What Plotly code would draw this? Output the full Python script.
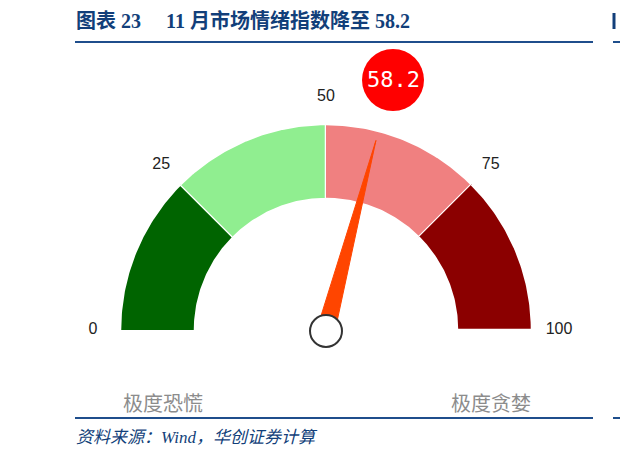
import numpy as np
import plotly.graph_objects as go

# gauge data
band_edges = [0, 25, 50, 75, 100]
band_colors = ['#006400', '#90EE90', '#F08080', '#8B0000']
tick_vals = [0, 25, 50, 75, 100]
tick_text = ['0', '25', '50', '75', '100']
value = 58.2
side_labels = ['极度恐慌', '极度贪婪']

title = '图表 23\u3000 11 月市场情绪指数降至 58.2'
source = '资料来源：Wind，华创证券计算'

# geometry (pixel units, gauge center at 0,0)
R_OUT, R_IN, R_LAB, R_NEEDLE = 206, 131, 233, 196
NAVY = '#1F4E8C'


def ang(v):
    return np.radians(180 - v * 1.8)


fig = go.Figure()

for i in range(len(band_colors)):
    t = np.linspace(ang(band_edges[i]), ang(band_edges[i + 1]), 60)
    xs = np.concatenate([R_OUT * np.cos(t), R_IN * np.cos(t[::-1])])
    ys = np.concatenate([R_OUT * np.sin(t), R_IN * np.sin(t[::-1])])
    fig.add_trace(go.Scatter(x=xs, y=ys, fill='toself', fillcolor=band_colors[i],
                             mode='lines', line=dict(color='white', width=2.5),
                             hoverinfo='skip', showlegend=False))

# tick labels
fig.add_trace(go.Scatter(x=[R_LAB * np.cos(ang(v)) for v in tick_vals],
                         y=[R_LAB * np.sin(ang(v)) for v in tick_vals],
                         mode='text', text=tick_text,
                         textfont=dict(family='Liberation Sans, Arial', size=16, color='#222222'),
                         hoverinfo='skip', showlegend=False))

# needle
a = ang(value)
perp = a + np.pi / 2
hw = 9
fig.add_trace(go.Scatter(x=[R_NEEDLE * np.cos(a), hw * np.cos(perp), -hw * np.cos(perp), R_NEEDLE * np.cos(a)],
                         y=[R_NEEDLE * np.sin(a), hw * np.sin(perp), -hw * np.sin(perp), R_NEEDLE * np.sin(a)],
                         fill='toself', fillcolor='#FF4500', mode='lines',
                         line=dict(color='#FF4500', width=1),
                         hoverinfo='skip', showlegend=False))

# hub
fig.add_shape(type='circle', x0=-16, y0=-17, x1=16, y1=15,
              fillcolor='white', line=dict(color='#333333', width=2))

# value bubble
fig.add_shape(type='circle', x0=36, y0=219, x1=98, y1=281,
              fillcolor='#FF0000', line=dict(color='#FF0000', width=0))
fig.add_annotation(x=67, y=251, text=f'{value:.1f}', showarrow=False,
                   font=dict(family='DejaVu Sans Mono, monospace', size=22, color='white'))

# side labels
for lx, txt in zip([-163, 165], side_labels):
    fig.add_annotation(x=lx, y=-72, text=txt, showarrow=False,
                       font=dict(family='Noto Sans CJK SC', size=20, color='#8C8C8C'))

# title and source
fig.add_annotation(xref='paper', yref='paper', x=74 / 620, y=1 - 21 / 457,
                   xanchor='left', yanchor='middle',
                   text='<b>' + title + '</b>', showarrow=False,
                   font=dict(family='Liberation Serif, Noto Sans CJK SC', size=20, color='#123F7A'))
fig.add_annotation(xref='paper', yref='paper', x=74 / 620, y=1 - 437 / 457,
                   xanchor='left', yanchor='middle',
                   text='<i>' + source + '</i>', showarrow=False,
                   font=dict(family='Liberation Serif, Noto Sans CJK SC', size=17, color='#123F7A'))

# rules
for py in [42, 418]:
    fig.add_shape(type='line', xref='paper', yref='paper', x0=75 / 620, x1=593 / 620,
                  y0=1 - py / 457, y1=1 - py / 457, line=dict(color=NAVY, width=2))
    fig.add_shape(type='line', xref='paper', yref='paper', x0=613 / 620, x1=1,
                  y0=1 - py / 457, y1=1 - py / 457, line=dict(color=NAVY, width=2))
fig.add_shape(type='line', xref='paper', yref='paper', x0=614 / 620, x1=614 / 620,
              y0=1 - 13 / 457, y1=1 - 29 / 457, line=dict(color='#123F7A', width=3))

fig.update_layout(width=620, height=457, margin=dict(l=0, r=0, t=0, b=0),
                  plot_bgcolor='white', paper_bgcolor='white',
                  xaxis=dict(range=[-326, 294], visible=False, fixedrange=True),
                  yaxis=dict(range=[-127, 330], visible=False, fixedrange=True))

fig.write_html("out.html", config={'displayModeBar': False},
               post_script="document.body.style.margin='0px';")
